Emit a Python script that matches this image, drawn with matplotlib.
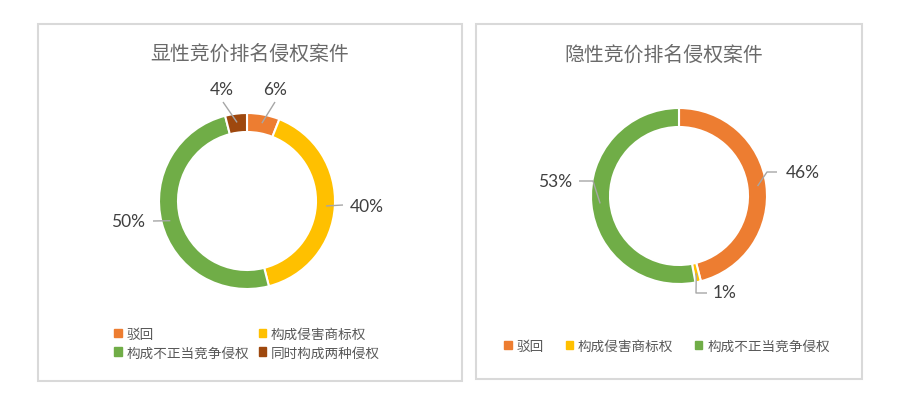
import matplotlib
matplotlib.use("Agg")
import matplotlib.pyplot as plt
from matplotlib.patches import Rectangle, Patch
import numpy as np

plt.rcParams['font.family'] = ['Noto Sans CJK SC', 'DejaVu Sans']

# data
left_title = '显性竞价排名侵权案件'
left_cats = ['驳回', '构成侵害商标权', '构成不正当竞争侵权', '同时构成两种侵权']
left_vals = [6, 40, 50, 4]
left_colors = ['#ED7D31', '#FFC000', '#70AD47', '#9E480E']

right_title = '隐性竞价排名侵权案件'
right_cats = ['驳回', '构成侵害商标权', '构成不正当竞争侵权']
right_vals = [46, 1, 53]
right_colors = ['#ED7D31', '#FFC000', '#70AD47']

W, H = 902, 402
TXT = '#595959'
LBL = '#404040'
LEAD = '#A6A6A6'


def Y(y):
    # pixel row (from top) -> data y
    return H - y


fig = plt.figure(figsize=(W / 100, H / 100), dpi=100)
ax = fig.add_axes([0, 0, 1, 1])


def donut(cx, cy, vals, colors, labels_at, leaders):
    R = 88
    wedges, _ = ax.pie(vals, colors=colors, startangle=90, counterclock=False,
                       radius=R, center=(cx, Y(cy)), frame=True,
                       wedgeprops=dict(width=19, edgecolor='white', linewidth=1.5))
    cum = np.cumsum([0] + vals[:-1])
    total = sum(vals)
    for v, c0, (lx, ly), lead in zip(vals, cum, labels_at, leaders):
        th = np.deg2rad(90 - 360 * (c0 + v / 2) / total)
        ax0 = cx + 0.9 * R * np.cos(th)
        ay0 = Y(cy) + 0.9 * R * np.sin(th)
        tx, ty = cx + lx, cy + ly
        xs, ys = [ax0], [ay0]
        for ex, ey in lead:
            xs.append(tx + ex)
            ys.append(Y(ty + ey))
        ax.plot(xs, ys, color=LEAD, lw=1.0, solid_capstyle='butt')
        ax.text(tx, Y(ty), f'{v}%', ha='center', va='center', color=LBL,
                fontsize=12.5, family=['Lato', 'DejaVu Sans'])
    return wedges


# panel frames
for x0, y0, x1, y1 in [(38, 25, 462, 382), (476, 25, 862, 380)]:
    ax.add_patch(Rectangle((x0, Y(y1)), x1 - x0, y1 - y0, fill=False,
                           edgecolor='#D9D9D9', lw=1.5))

ax.text(250, Y(54), left_title, ha='center', va='center', color='#6A6A6A',
        fontsize=14.3, fontweight='light')
ax.text(664, Y(55), right_title, ha='center', va='center', color='#6A6A6A',
        fontsize=14.3, fontweight='light')

donut(247, 202, left_vals, left_colors,
      [(28, -112), (120, 5), (-119, 20), (-25, -112)],
      [[(0, 13)], [(-24, -1)], [(25, 0)], [(1, 13)]])
donut(679, 197, right_vals, right_colors,
      [(124, -24), (46, 96), (-124, -15)],
      [[(-36, 0), (-26, 0)], [(-29, 1), (-18, 1)], [(38, 0), (24, 0)]])

# legends
lh = [Patch(color=c) for c in left_colors]
order = [0, 2, 1, 3]
leg1 = ax.legend([lh[i] for i in order], [left_cats[i] for i in order],
                 ncol=2, loc='center', bbox_to_anchor=(247, Y(344)),
                 bbox_transform=ax.transData, frameon=False, borderpad=0,
                 fontsize=9.8, handlelength=0.55, handleheight=0.55,
                 handletextpad=0.35, columnspacing=0.7, labelspacing=0.35,
                 labelcolor=TXT)
ax.add_artist(leg1)
rh = [Patch(color=c) for c in right_colors]
ax.legend(rh, right_cats, ncol=3, loc='center', bbox_to_anchor=(667, Y(347)),
          bbox_transform=ax.transData, frameon=False, borderpad=0,
          fontsize=9.8, handlelength=0.55, handleheight=0.55,
          handletextpad=0.35, columnspacing=1.6, labelcolor=TXT)

ax.set_xlim(0, W)
ax.set_ylim(0, H)
ax.set_aspect('equal')
ax.axis('off')

fig.savefig('out.png', dpi=100, facecolor='white')
